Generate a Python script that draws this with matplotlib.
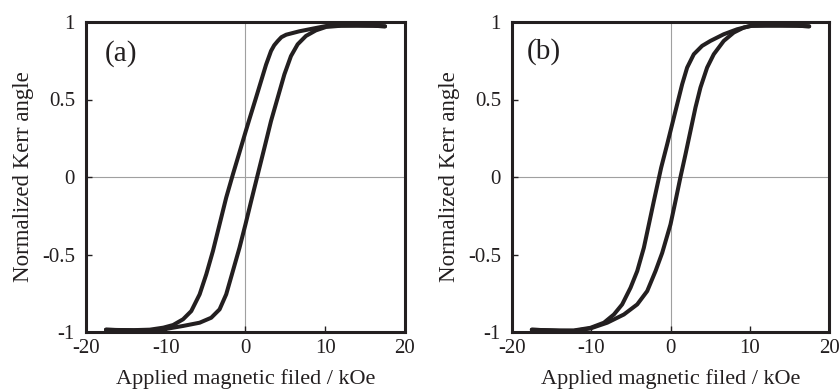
import matplotlib
matplotlib.use("Agg")
import matplotlib.pyplot as plt
from matplotlib.ticker import FixedLocator

plt.rcParams['font.family'] = ['Liberation Serif', 'DejaVu Serif']

# Panel (a): descending-field branch (left curve) and ascending-field branch (right curve)
a_down_H = [17.5, 16, 14, 12, 10.1, 8.5, 6.75, 5.1, 4.5, 4.04, 3.6, 3.2, 2.58, 1.96, 1.25, 0.5,
            0.0, -0.75, -1.58, -2.42, -3.25, -4.08, -4.92, -5.75, -6.8, -7.83, -9.08, -10.3,
            -12, -14, -16, -17.5]
a_down_K = [0.972, 0.976, 0.977, 0.977, 0.974, 0.958, 0.94, 0.918, 0.902, 0.877, 0.85, 0.813,
            0.725, 0.62, 0.5, 0.375, 0.29, 0.16, 0.017, -0.133, -0.305, -0.477, -0.628,
            -0.757, -0.865, -0.918, -0.955, -0.972, -0.985, -0.988, -0.987, -0.985]
a_up_H = [-17.5, -16, -14, -12, -10.3, -7.83, -5.75, -4.3, -3.25, -2.42, -1.58, -0.75, 0.0,
          0.71, 1.54, 2.375, 3.2, 4.04, 4.875, 5.7, 6.54, 7.58, 8.83, 10.1, 12, 14, 16, 17.5]
a_up_K = [-0.985, -0.988, -0.99, -0.99, -0.983, -0.961, -0.94, -0.908, -0.854, -0.757, -0.606,
          -0.456, -0.305, -0.155, 0.017, 0.189, 0.361, 0.512, 0.662, 0.78, 0.856, 0.91, 0.946,
          0.968, 0.976, 0.977, 0.976, 0.972]

# Panel (b)
b_down_H = [17.5, 16, 14, 12, 10.1, 8.4, 6.72, 5.04, 3.99, 2.94, 2.1, 1.47, 0.84, 0.21, -0.42,
            -1.18, -2.1, -2.73, -3.36, -4.2, -5.04, -6.1, -7.14, -8.4, -10.1, -12.2, -14, -16,
            -17.5]
b_down_K = [0.972, 0.976, 0.977, 0.977, 0.975, 0.953, 0.921, 0.878, 0.846, 0.792, 0.706, 0.598,
            0.469, 0.34, 0.211, 0.06, -0.155, -0.306, -0.456, -0.607, -0.714, -0.822, -0.887,
            -0.94, -0.973, -0.99, -0.991, -0.988, -0.985]
b_up_H = [-17.5, -16, -14, -12.2, -10.1, -7.98, -5.88, -4.2, -2.94, -1.89, -1.05, 0.0, 0.63,
          1.26, 1.89, 2.52, 3.15, 3.78, 4.62, 5.46, 6.72, 7.98, 9.24, 10.3, 12, 14, 16, 17.5]
b_up_K = [-0.985, -0.988, -0.991, -0.993, -0.977, -0.94, -0.887, -0.822, -0.736, -0.607, -0.49,
          -0.306, -0.155, 0.0, 0.146, 0.297, 0.448, 0.577, 0.706, 0.792, 0.878, 0.932, 0.964,
          0.976, 0.977, 0.977, 0.976, 0.972]

x_ticks = [-20, -10, 0, 10, 20]
x_ticklabels = ['-20', '-10', '0', '10', '20']
y_ticks = [-1, -0.5, 0, 0.5, 1]
y_ticklabels = ['-1', '-0.5', '0', '0.5', '1']
panel_labels = ['(a)', '(b)']
x_label = 'Applied magnetic filed / kOe'
y_label = 'Normalized Kerr angle'

ink = '#231f20'
fig = plt.figure(figsize=(8.4, 3.9), dpi=100)
ax_a = fig.add_axes([86/840, 1-332/390, 319/840, 310/390])
ax_b = fig.add_axes([512/840, 1-332/390, 317/840, 310/390])

panels = [
    (ax_a, a_down_H, a_down_K, a_up_H, a_up_K, panel_labels[0], 0.058, 0.898),
    (ax_b, b_down_H, b_down_K, b_up_H, b_up_K, panel_labels[1], 0.048, 0.905),
]
for ax, dH, dK, uH, uK, lab, lx, ly in panels:
    ax.axhline(0, color='#a0a0a0', lw=0.8, zorder=1)
    ax.axvline(0, color='#a0a0a0', lw=0.8, zorder=1)
    ax.plot(dH, dK, color=ink, lw=2.9, solid_capstyle='round', solid_joinstyle='round', zorder=3)
    ax.plot(uH, uK, color=ink, lw=2.9, solid_capstyle='round', solid_joinstyle='round', zorder=3)
    ax.set_xlim(-20, 20)
    ax.set_ylim(-1, 1)
    ax.xaxis.set_major_locator(FixedLocator(x_ticks))
    ax.yaxis.set_major_locator(FixedLocator(y_ticks))
    ax.set_xticklabels(x_ticklabels)
    ax.set_yticklabels(y_ticklabels)
    ax.tick_params(direction='in', length=4, width=1.0, color=ink, labelsize=15,
                   labelcolor=ink, top=False, right=False)
    ax.tick_params(axis='x', pad=5)
    ax.tick_params(axis='y', pad=8)
    for s in ax.spines.values():
        s.set_linewidth(2.2)
        s.set_color(ink)
    ax.set_xlabel(x_label, fontsize=16, color=ink, labelpad=8)
    ax.set_ylabel(y_label, fontsize=16.5, color=ink, labelpad=6)
    ax.text(lx, ly, lab, transform=ax.transAxes, fontsize=21, color=ink,
            ha='left', va='center')

fig.savefig('out.png', dpi=100)
